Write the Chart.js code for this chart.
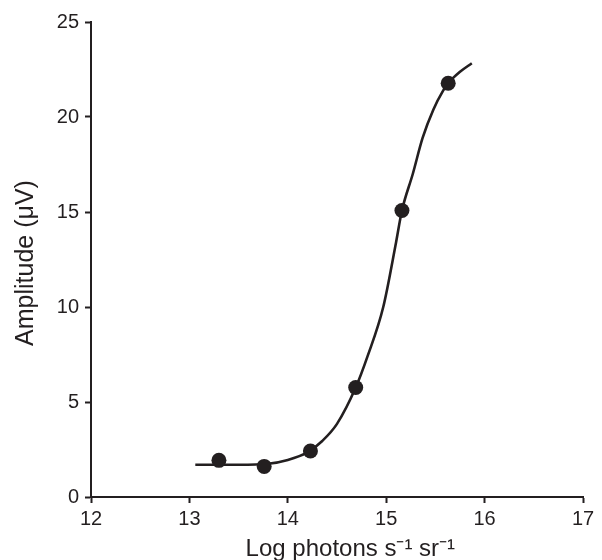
<!DOCTYPE html>
<html>
<head>
<meta charset="utf-8">
<script src="https://cdn.jsdelivr.net/npm/chart.js@4/dist/chart.umd.min.js"></script>
<style>
  html, body { margin: 0; padding: 0; background: #fff; }
  #wrap { width: 602px; height: 560px; }
</style>
</head>
<body>
<div id="wrap"><canvas id="doseChart" width="602" height="560"></canvas></div>
<script>
// measured responses (dots)
const pointX = [13.3, 13.76, 14.23, 14.69, 15.16, 15.63];
const pointY = [1.93, 1.61, 2.42, 5.76, 15.08, 21.78];

// fitted curve
const curveX = [13.06, 13.5, 13.8, 14.0, 14.2, 14.35, 14.5, 14.69, 14.81, 14.97, 15.1, 15.16, 15.27, 15.37, 15.48, 15.58, 15.63, 15.75, 15.87];
const curveY = [1.70, 1.70, 1.75, 1.95, 2.35, 2.95, 3.85, 5.76, 7.4, 10.0, 13.4, 15.08, 17.0, 18.9, 20.4, 21.4, 21.78, 22.38, 22.83];

const xTicks = [12, 13, 14, 15, 16, 17];
const yTicks = [0, 5, 10, 15, 20, 25];

const ink = "#231f20";
const face = "'Liberation Sans', Arial, sans-serif";
const tickFont = { family: face, size: 20 };

const toXY = (xs, ys) => xs.map((x, i) => ({ x: x, y: ys[i] }));

const ctx = document.getElementById("doseChart").getContext("2d");
new Chart(ctx, {
  type: "scatter",
  data: {
    datasets: [
      {
        data: toXY(curveX, curveY),
        showLine: true,
        borderColor: ink,
        borderWidth: 2.6,
        pointRadius: 0,
        cubicInterpolationMode: "monotone",
        order: 2
      },
      {
        data: toXY(pointX, pointY),
        showLine: false,
        backgroundColor: ink,
        borderColor: ink,
        pointRadius: 7.5,
        pointBorderWidth: 0,
        order: 1
      }
    ]
  },
  options: {
    responsive: false,
    animation: false,
    layout: { padding: { left: 0, top: 22, right: 19, bottom: 0 } },
    plugins: { legend: { display: false }, tooltip: { enabled: false } },
    scales: {
      x: {
        type: "linear",
        min: 12,
        max: 17,
        afterBuildTicks: (s) => { s.ticks = xTicks.map(v => ({ value: v })); },
        afterFit: (s) => { s.height = 63; },
        ticks: { color: ink, font: tickFont, padding: 4, maxRotation: 0 },
        grid: { drawOnChartArea: false, tickLength: 6, tickWidth: 2, color: ink },
        border: { display: true, color: ink, width: 2 },
        title: {
          display: true,
          text: "\u00A0\u00A0\u00A0\u00A0Log photons s\u207B\u00B9 sr\u207B\u00B9",
          color: ink,
          font: { family: face, size: 24, lineHeight: 0.9 },
          padding: { top: 0, bottom: 0 }
        }
      },
      y: {
        type: "linear",
        min: 0,
        max: 25,
        afterBuildTicks: (s) => { s.ticks = yTicks.map(v => ({ value: v })); },
        afterFit: (s) => { s.width = 91; },
        ticks: { color: ink, font: tickFont, padding: 6 },
        grid: { drawOnChartArea: false, tickLength: 6, tickWidth: 2, color: ink },
        border: { display: true, color: ink, width: 2 },
        title: {
          display: true,
          text: "Amplitude (\u03BCV)\u00A0",
          color: ink,
          font: { family: face, size: 25 },
          padding: { top: 11, bottom: 0 }
        }
      }
    }
  }
});
</script>
</body>
</html>
